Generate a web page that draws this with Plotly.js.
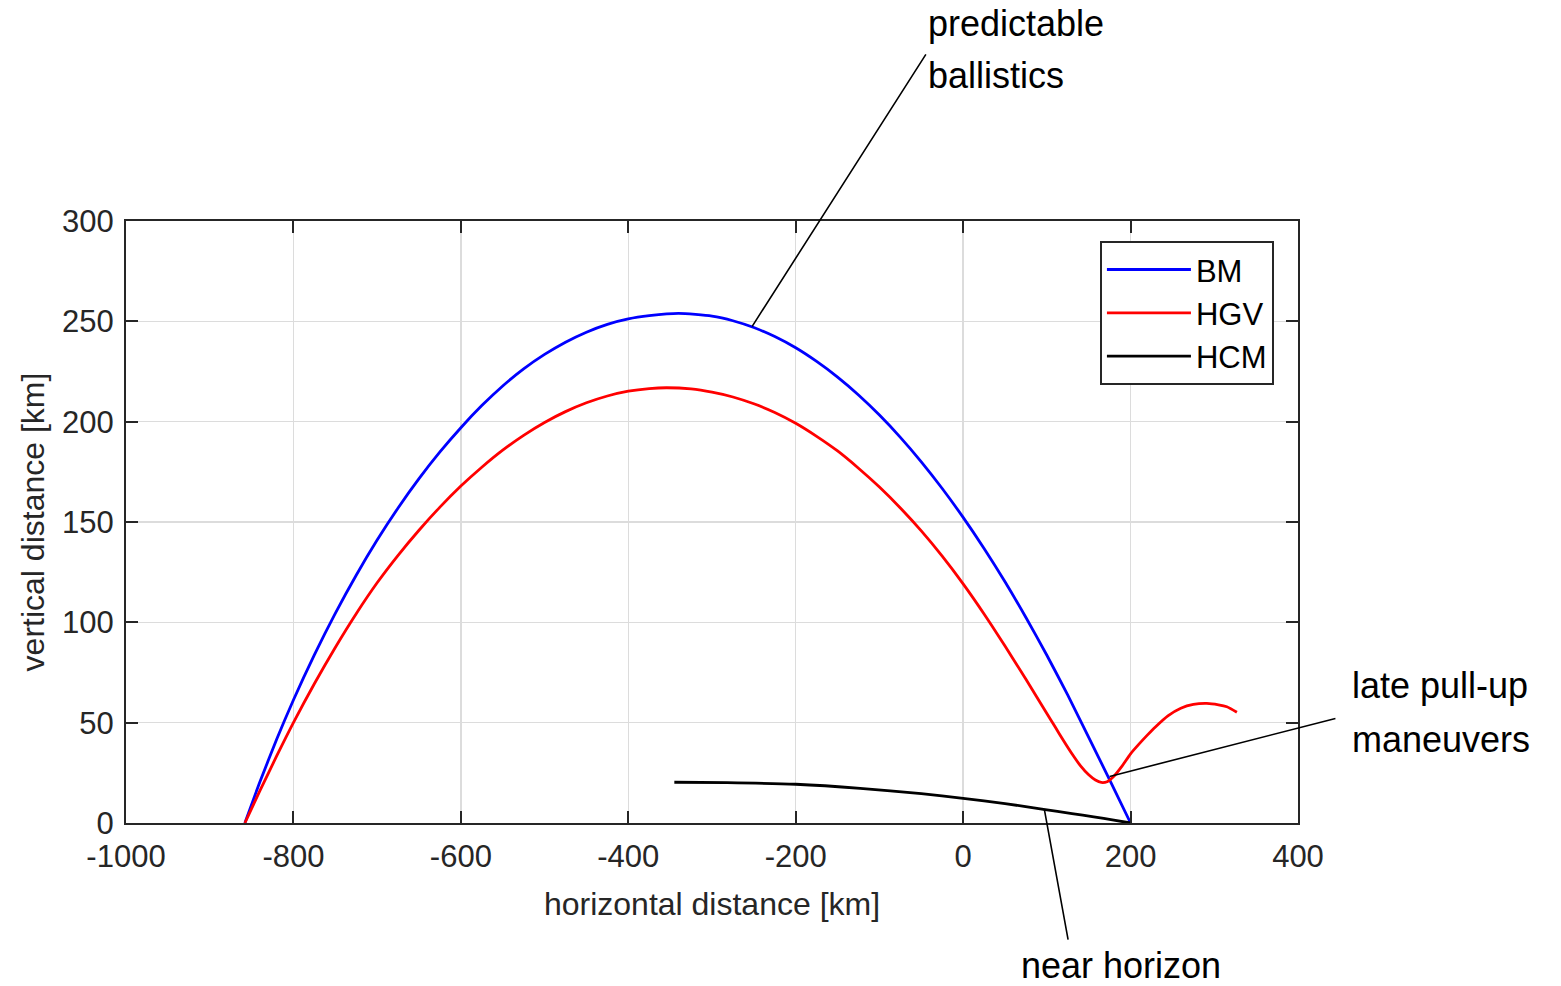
<!DOCTYPE html>
<html>
<head>
<meta charset="utf-8">
<script src="https://cdn.plot.ly/plotly-3.0.1.min.js"></script>
<style>
html,body{margin:0;padding:0;background:#fff;}
#chart{width:1561px;height:986px;}
</style>
</head>
<body>
<div id="chart"></div>
<script>
// Ballistic missile (BM)
var bmX = [-858, -840, -820, -800, -775, -750, -725, -700, -675, -650, -625, -600, -575, -550, -525, -500, -475, -450, -425, -400, -375, -340,
           -300, -275, -250, -225, -200, -175, -150, -125, -100, -75, -50, -25, 0, 25, 50, 75, 100, 125, 150, 175, 200];
var bmY = [0, 20.5, 41.7, 61.3, 83.8, 104.5, 123.5, 141, 157, 171.6, 184.9, 197, 208, 217.8, 226.3, 233.5, 239.6, 244.6, 248.5, 251.2, 252.8, 254,
           252.6, 250.3, 246.9, 242.4, 236.8, 230, 222.2, 213.3, 203.3, 192.2, 180, 166.7, 152.3, 136.8, 120.2, 102.4, 83.6, 63.7, 42.7, 21.5, 0];

// Hypersonic glide vehicle (HGV)
var hgvX = [-858, -840, -820, -800, -775, -750, -725, -700, -675, -650, -625, -600, -575, -550, -525, -500, -475, -450, -425, -400, -375, -354,
            -325, -300, -275, -250, -225, -200, -175, -150, -125, -100, -75, -50, -25, 0, 25, 50, 75, 100, 110, 120, 130, 140, 150, 158, 165, 172,
            180, 190, 200, 210, 220, 230, 245, 260, 275, 291, 305, 315, 327];
var hgvY = [0, 16.1, 33.4, 50, 69.4, 87.5, 104.3, 119.7, 133.4, 145.9, 157.4, 167.9, 177.3, 185.8, 193.2, 199.6, 205, 209.4, 212.8, 215.2, 216.5, 216.9,
            216.3, 214.7, 212.3, 208.9, 204.6, 199.2, 192.7, 185.4, 176.8, 167.4, 157, 145.6, 133, 119.2, 104.2, 88.2, 71.6, 54.6, 47.8, 41, 34.5, 28.6, 24, 21.4, 20.2, 20.6,
            23.3, 28.5, 34.5, 39.3, 43.8, 48, 53.5, 57.2, 59.1, 59.6, 58.9, 57.9, 55.2];

// Hypersonic cruise missile (HCM)
var hcmX = [-345, -282, -200, -123, -50, 0, 50, 96, 130, 156, 180, 200];
var hcmY = [20.3, 20.1, 19.3, 17.3, 14.6, 12.3, 9.7, 6.8, 4.7, 3.1, 1.4, 0];

var seriesNames = ['BM', 'HGV', 'HCM'];
var seriesColors = ['#0000ff', '#ff0000', '#000000'];

var xTicks = [-1000, -800, -600, -400, -200, 0, 200, 400];
var yTicks = [0, 50, 100, 150, 200, 250, 300];

// annotation texts and leader-line anchors (data units)
var noteTexts = ['predictable', 'ballistics', 'late pull-up', 'maneuvers', 'near horizon'];
var leaderHeadX = [-252, 175, 97];
var leaderHeadY = [247.5, 23.2, 6.8];
var leaderTailX = [-43, 446.5, 125.8];
var leaderTailY = [384, 52.3, -59.1];

var font = 'Liberation Sans, Arial, sans-serif';

var traces = [
  {x: bmX, y: bmY, name: seriesNames[0]},
  {x: hgvX, y: hgvY, name: seriesNames[1]},
  {x: hcmX, y: hcmY, name: seriesNames[2]}
].map(function (t, i) {
  t.type = 'scatter';
  t.mode = 'lines';
  t.line = {color: seriesColors[i], width: 2.8, shape: 'spline', smoothing: 0.6};
  return t;
});

var axisCommon = {
  showline: true,
  linecolor: '#262626',
  linewidth: 2,
  mirror: 'ticks',
  ticks: 'inside',
  ticklen: 12,
  tickwidth: 2,
  tickcolor: '#262626',
  showgrid: true,
  gridcolor: '#dcdcdc',
  gridwidth: 1.5,
  zeroline: false,
  tickfont: {family: font, size: 31, color: '#262626'},
  tickmode: 'array'
};

var xaxis = Object.assign({}, axisCommon, {
  range: [-1000, 400],
  tickvals: xTicks,
  ticktext: xTicks.map(String),
  ticklabelstandoff: 5,
  title: {text: 'horizontal distance [km]', font: {family: font, size: 32, color: '#262626'}, standoff: 19}
});
var yaxis = Object.assign({}, axisCommon, {
  range: [0, 300],
  tickvals: yTicks,
  ticktext: yTicks.map(String),
  ticklabelstandoff: 4,
  title: {text: 'vertical distance [km]', font: {family: font, size: 32, color: '#262626'}, standoff: 8}
});

var notePos = [
  {x: 0.6830, y: 1.3289},
  {x: 0.6830, y: 1.2409},
  {x: 1.0440, y: 0.2292},
  {x: 1.0440, y: 0.1395},
  {x: 0.7620, y: -0.2370}
];

var annotations = noteTexts.map(function (t, i) {
  return {
    text: t, xref: 'paper', yref: 'paper', x: notePos[i].x, y: notePos[i].y,
    xanchor: 'left', yanchor: 'middle', showarrow: false,
    font: {family: font, size: 36, color: '#000000'}
  };
});
leaderHeadX.forEach(function (hx, i) {
  annotations.push({
    text: ' ', x: hx, y: leaderHeadY[i], xref: 'x', yref: 'y',
    ax: leaderTailX[i], ay: leaderTailY[i], axref: 'x', ayref: 'y',
    showarrow: true, arrowhead: 0, arrowwidth: 1.6, arrowcolor: '#000000',
    standoff: 0, startstandoff: 0, font: {size: 1}
  });
});

var layout = {
  width: 1561,
  height: 986,
  margin: {l: 126, r: 263, t: 221, b: 163, pad: 0},
  paper_bgcolor: '#ffffff',
  plot_bgcolor: '#ffffff',
  xaxis: xaxis,
  yaxis: yaxis,
  showlegend: true,
  legend: {
    x: 0.831, y: 0.967, xanchor: 'left', yanchor: 'top',
    bgcolor: '#ffffff', bordercolor: '#262626', borderwidth: 2,
    font: {family: font, size: 31, color: '#000000'},
    itemwidth: 84
  },
  annotations: annotations
};

Plotly.newPlot('chart', traces, layout, {staticPlot: true});
</script>
</body>
</html>
